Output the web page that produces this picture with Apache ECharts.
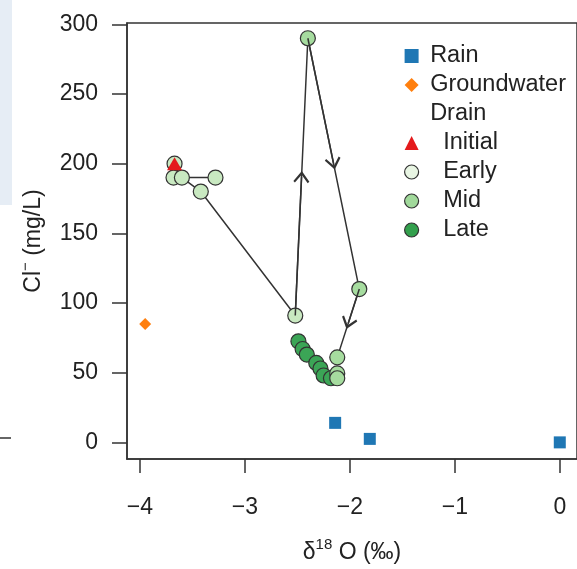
<!DOCTYPE html>
<html>
<head>
<meta charset="utf-8">
<script src="https://cdn.jsdelivr.net/npm/echarts@6/dist/echarts.min.js"></script>
<style>
  html, body { margin: 0; padding: 0; background: #fff; }
  #chart { width: 577px; height: 569px; }
</style>
</head>
<body>
<div id="chart"></div>
<script>
// ---- Data ----
const rainX = [-2.14, -1.81, 0.0];
const rainY = [14, 2.5, 0];
const groundwaterX = [-3.95];
const groundwaterY = [85];
const initialPts = [[-3.67, 200]];
const earlyPts = [[-3.67, 200], [-3.68, 190], [-3.60, 190], [-3.28, 190], [-3.42, 180], [-2.52, 91]];
const midPts = [[-2.40, 290], [-1.91, 110], [-2.12, 61], [-2.12, 49.5], [-2.12, 46]];
const latePts = [[-2.49, 72.5], [-2.45, 67], [-2.41, 63], [-2.32, 57], [-2.28, 53], [-2.25, 48], [-2.18, 46]];
const pathPts = [[-3.28, 190], [-3.60, 190], [-3.42, 180], [-2.52, 91], [-2.40, 290], [-1.91, 110], [-2.12, 61]];
const arrowSegments = [[3, 4], [4, 5], [5, 6]];
const xTickValues = [-4, -3, -2, -1, 0];
const xTickLabels = ['\u22124', '\u22123', '\u22122', '\u22121', '0'];
const yTickValues = [0, 50, 100, 150, 200, 250, 300];
const yTickLabels = ['0', '50', '100', '150', '200', '250', '300'];
const legendNames = ['Rain', 'Groundwater', 'Drain', 'Initial', 'Early', 'Mid', 'Late'];

const FONT = '"Liberation Sans", Arial, sans-serif';
const AX = '#333';

const chart = echarts.init(document.getElementById('chart'), null, { renderer: 'canvas' });

const arrowPath = 'path://M5,0 L10,7 L9,8 L5,2.6 L1,8 L0,7 Z';
const arrowData = arrowSegments.map(([a, b]) => {
  const p = pathPts[a], q = pathPts[b];
  const m = [(p[0] + q[0]) / 2, (p[1] + q[1]) / 2];
  return [
    { coord: p, symbol: 'none' },
    { coord: m, symbol: arrowPath, symbolSize: [16, 12] }
  ];
});

const subItems = ['Initial', 'Early', 'Mid', 'Late'];

const option = {
  animation: false,
  backgroundColor: '#fff',
  graphic: [
    { type: 'rect', shape: { x: 0, y: 0, width: 12, height: 205 }, style: { fill: '#e6edf5' }, silent: true },
    { type: 'line', shape: { x1: 0, y1: 438, x2: 11, y2: 438 }, style: { stroke: '#333', lineWidth: 1.5 }, silent: true }
  ],
  grid: {
    left: 127, top: 23, right: -3, bottom: 108,
    show: true, borderColor: AX, borderWidth: 1.5, backgroundColor: 'transparent'
  },
  legend: {
    orient: 'vertical',
    left: 399, top: 39,
    itemWidth: 14, itemHeight: 14, itemGap: 5,
    selectedMode: false,
    textStyle: { fontSize: 23.5, color: '#222', fontFamily: FONT, lineHeight: 22 },
    formatter: name => (subItems.indexOf(name) >= 0 ? '   ' : ' ') + name,
    data: [
      { name: 'Rain' },
      { name: 'Groundwater' },
      { name: 'Drain', icon: 'rect', itemStyle: { color: 'rgba(0,0,0,0)', borderWidth: 0 } },
      { name: 'Initial' },
      { name: 'Early', itemStyle: { color: '#e8f5e3', borderColor: '#333', borderWidth: 1.2 } },
      { name: 'Mid', itemStyle: { color: '#a1d99b', borderColor: '#333', borderWidth: 1.2 } },
      { name: 'Late', itemStyle: { color: '#33a04d', borderColor: '#333', borderWidth: 1.2 } }
    ]
  },
  xAxis: {
    type: 'value',
    min: -4.123, max: 0.164,
    splitLine: { show: false },
    axisLine: { show: true, onZero: false, lineStyle: { color: AX, width: 1.5 } },
    axisTick: { show: true, inside: false, length: 14, lineStyle: { color: AX, width: 1.5 }, customValues: xTickValues },
    axisLabel: {
      customValues: xTickValues,
      formatter: v => xTickLabels[xTickValues.indexOf(Math.round(v))] || '',
      fontSize: 23, color: '#222', fontFamily: FONT, margin: 37
    },
    name: '{n|\u03b4}{s|18}{n| O (\u2030)}',
    nameLocation: 'middle',
    nameGap: 78,
    nameTextStyle: {
      fontFamily: FONT, color: '#222',
      rich: {
        n: { fontSize: 23, fontFamily: FONT, color: '#222', lineHeight: 27, verticalAlign: 'bottom' },
        s: { fontSize: 15, fontFamily: FONT, color: '#222', lineHeight: 27, verticalAlign: 'top' }
      }
    }
  },
  yAxis: {
    type: 'value',
    min: -11.93, max: 300.93,
    splitLine: { show: false },
    axisLine: { show: true, onZero: false, lineStyle: { color: AX, width: 1.5 } },
    axisTick: { show: true, inside: false, length: 15, lineStyle: { color: AX, width: 1.5 }, customValues: yTickValues },
    axisLabel: {
      customValues: yTickValues,
      formatter: v => yTickLabels[yTickValues.indexOf(Math.round(v))] || '',
      fontSize: 23, color: '#222', fontFamily: FONT, margin: 29
    },
    name: '{n|Cl}{s|\u2212}{n| (mg/L)}',
    nameLocation: 'middle',
    nameRotate: 90,
    nameGap: 82,
    nameTextStyle: {
      fontFamily: FONT, color: '#222',
      rich: {
        n: { fontSize: 23, fontFamily: FONT, color: '#222', lineHeight: 27, verticalAlign: 'bottom' },
        s: { fontSize: 15, fontFamily: FONT, color: '#222', lineHeight: 27, verticalAlign: 'top' }
      }
    }
  },
  series: [
    {
      name: 'path', type: 'line', data: pathPts, symbol: 'none', z: 1,
      lineStyle: { color: AX, width: 1.5 },
      markLine: {
        silent: true, animation: false,
        symbol: ['none', arrowPath],
        lineStyle: { color: AX, width: 1.5, type: 'solid' },
        label: { show: false },
        emphasis: { disabled: true },
        data: arrowData
      }
    },
    {
      name: 'Rain', type: 'scatter', symbol: 'rect', symbolSize: 12, z: 3,
      itemStyle: { color: '#1f77b4', opacity: 1 },
      data: rainX.map((x, i) => [x, rainY[i]])
    },
    {
      name: 'Groundwater', type: 'scatter', symbol: 'diamond', symbolSize: 12, z: 3,
      itemStyle: { color: '#ff7f0e', opacity: 1 },
      data: groundwaterX.map((x, i) => [x, groundwaterY[i]])
    },
    { name: 'Drain', type: 'scatter', data: [], itemStyle: { color: 'rgba(0,0,0,0)' } },
    {
      name: 'Early', type: 'scatter', symbol: 'circle', symbolSize: 15, z: 3,
      itemStyle: { color: '#c9e9c1', borderColor: '#333', borderWidth: 1.2, opacity: 1 },
      data: earlyPts
    },
    {
      name: 'Late', type: 'scatter', symbol: 'circle', symbolSize: 15, z: 3,
      itemStyle: { color: '#3ba556', borderColor: '#333', borderWidth: 1.2, opacity: 1 },
      data: latePts
    },
    {
      name: 'Mid', type: 'scatter', symbol: 'circle', symbolSize: 15, z: 4,
      itemStyle: { color: '#a6dc9f', borderColor: '#333', borderWidth: 1.2, opacity: 1 },
      data: midPts
    },
    {
      name: 'Initial', type: 'scatter', symbol: 'triangle', symbolSize: [15, 13], z: 5,
      itemStyle: { color: '#e41a1c', opacity: 1 },
      data: initialPts
    }
  ]
};

chart.setOption(option);
</script>
</body>
</html>
